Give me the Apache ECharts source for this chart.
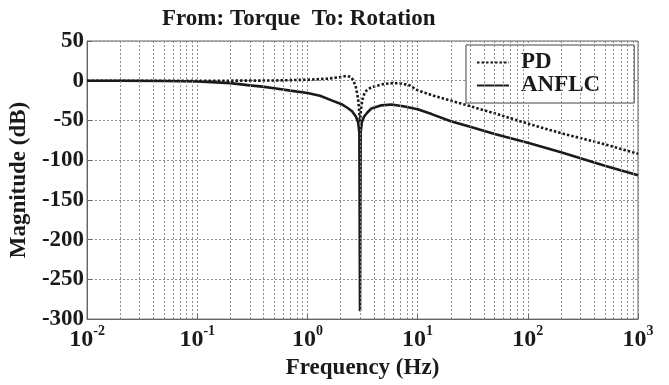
<!DOCTYPE html>
<html>
<head>
<meta charset="utf-8">
<script src="https://cdn.jsdelivr.net/npm/echarts@6/dist/echarts.min.js"></script>
<style>html,body{margin:0;padding:0;background:#fff;}#c{width:669px;height:385px;}</style>
</head>
<body>
<div id="c"></div>
<script>
var titleText = 'From: Torque  To: Rotation';
var xName = 'Frequency (Hz)';
var yName = 'Magnitude (dB)';
var seriesNames = ['PD', 'ANFLC'];

var pdFreq = [0.01, 0.03, 0.1, 0.3, 0.5, 1.0, 1.5, 2.0, 2.25, 2.45, 2.6, 2.75, 2.88, 2.96, 3.0, 3.05, 3.15, 3.33, 3.8, 5.0, 6.0, 7.2, 8.5, 10, 14, 20, 30, 50, 100, 200, 500, 1000];
var pdMag  = [0, 0, 0, 0.1, 0.3, 1.2, 2.5, 4.5, 6, 5, 1, -8, -22, -40, -52, -38, -24, -14, -8, -4, -3, -3.5, -6, -12, -19, -25, -32, -41, -54, -66, -80, -92];

var anFreq = [0.01, 0.02, 0.05, 0.1, 0.2, 0.3, 0.39, 0.5, 0.7, 1.0, 1.3, 1.68, 2.07, 2.3, 2.54, 2.75, 2.88, 2.96, 3.0, 3.04, 3.12, 3.27, 3.5, 3.8, 4.7, 5.8, 7.6, 10, 13.4, 20, 30, 50, 100, 200, 500, 1000];
var anMag  = [0, 0, -0.3, -1, -3, -5.8, -7.4, -9.5, -12.5, -15.5, -19, -25, -30, -34, -38.5, -45, -52, -65, -290, -65, -52, -45, -40, -35, -31, -30, -32.5, -36, -42, -51, -58, -67, -78, -90, -107, -119];

var minorGridFreq = [];
[0.01, 0.1, 1, 10, 100].forEach(function (d) {
  for (var k = 2; k <= 9; k++) minorGridFreq.push(+(d * k).toPrecision(3));
});

function pairs(xs, ys) { return xs.map(function (x, i) { return [x, ys[i]]; }); }

var FONT = '"Liberation Serif", "Times New Roman", serif';
var gridLine = { color: '#8a8a8a', width: 1, type: [2, 2] };

var chart = echarts.init(document.getElementById('c'), null, { renderer: 'canvas' });
chart.setOption({
  animation: false,
  backgroundColor: '#fff',
  title: {
    text: titleText, left: 157, top: 3,
    textStyle: { fontFamily: FONT, fontWeight: 'bold', fontSize: 23, color: '#1a1a1a' }
  },
  legend: {
    data: seriesNames,
    orient: 'vertical',
    left: 466, top: 45,
    padding: [6, 34, 6, 10],
    itemGap: 0,
    itemWidth: 32,
    itemHeight: 10,
    backgroundColor: '#fff',
    borderColor: '#444',
    borderWidth: 1,
    itemStyle: { opacity: 0 },
    textStyle: { fontFamily: FONT, fontWeight: 'bold', fontSize: 23, color: '#1a1a1a', padding: [0, 0, 0, 7], lineHeight: 23 }
  },
  grid: { left: 83, right: 31, top: 41, bottom: 63, show: true, borderColor: '#666', borderWidth: 1 },
  xAxis: {
    type: 'log', logBase: 10, min: 0.01, max: 1000,
    name: xName, nameLocation: 'middle', nameGap: 31,
    nameTextStyle: { fontFamily: FONT, fontWeight: 'bold', fontSize: 23, color: '#1a1a1a' },
    axisLine: { show: true, onZero: false, lineStyle: { color: '#666' } },
    axisTick: { show: true, inside: true, length: 5, lineStyle: { color: '#666' } },
    splitLine: { show: true, lineStyle: gridLine },
    axisLabel: {
      margin: 5, showMinLabel: true, showMaxLabel: true, hideOverlap: false,
      formatter: function (v) {
        var e = Math.round(Math.log10(v));
        return '{b|10}{s|' + e + '}';
      },
      rich: {
        b: { fontFamily: FONT, fontWeight: 'bold', fontSize: 24, color: '#1a1a1a', lineHeight: 28, verticalAlign: 'bottom' },
        s: { fontFamily: FONT, fontWeight: 'bold', fontSize: 14, color: '#1a1a1a', lineHeight: 14, padding: [0, 0, 14, 0], verticalAlign: 'bottom' }
      }
    }
  },
  yAxis: {
    type: 'value', min: -300, max: 50, interval: 50,
    name: yName, nameLocation: 'middle', nameGap: 49, nameRotate: 90,
    nameTextStyle: { fontFamily: FONT, fontWeight: 'bold', fontSize: 23, color: '#1a1a1a' },
    axisLine: { show: true, lineStyle: { color: '#666' } },
    axisTick: { show: true, inside: true, length: 5, lineStyle: { color: '#666' } },
    splitLine: { show: true, lineStyle: gridLine },
    axisLabel: { margin: 3, fontFamily: FONT, fontWeight: 'bold', fontSize: 23, color: '#1a1a1a' }
  },
  series: [
    {
      name: '_grid', type: 'line', data: [], silent: true, z: 1,
      markLine: {
        silent: true, symbol: ['none', 'none'], label: { show: false },
        lineStyle: gridLine, animation: false,
        data: minorGridFreq.map(function (f) { return { xAxis: f }; })
      }
    },
    {
      name: seriesNames[0], type: 'line', data: pairs(pdFreq, pdMag),
      showSymbol: false, symbol: 'none', z: 3,
      lineStyle: { color: '#1a1a1a', width: 2.6, type: [2.5, 2] },
      itemStyle: { color: '#1a1a1a' }
    },
    {
      name: seriesNames[1], type: 'line', data: pairs(anFreq, anMag),
      showSymbol: false, symbol: 'none', z: 4,
      lineStyle: { color: '#1a1a1a', width: 2.6, type: 'solid' },
      itemStyle: { color: '#1a1a1a' }
    }
  ]
});
</script>
</body>
</html>
